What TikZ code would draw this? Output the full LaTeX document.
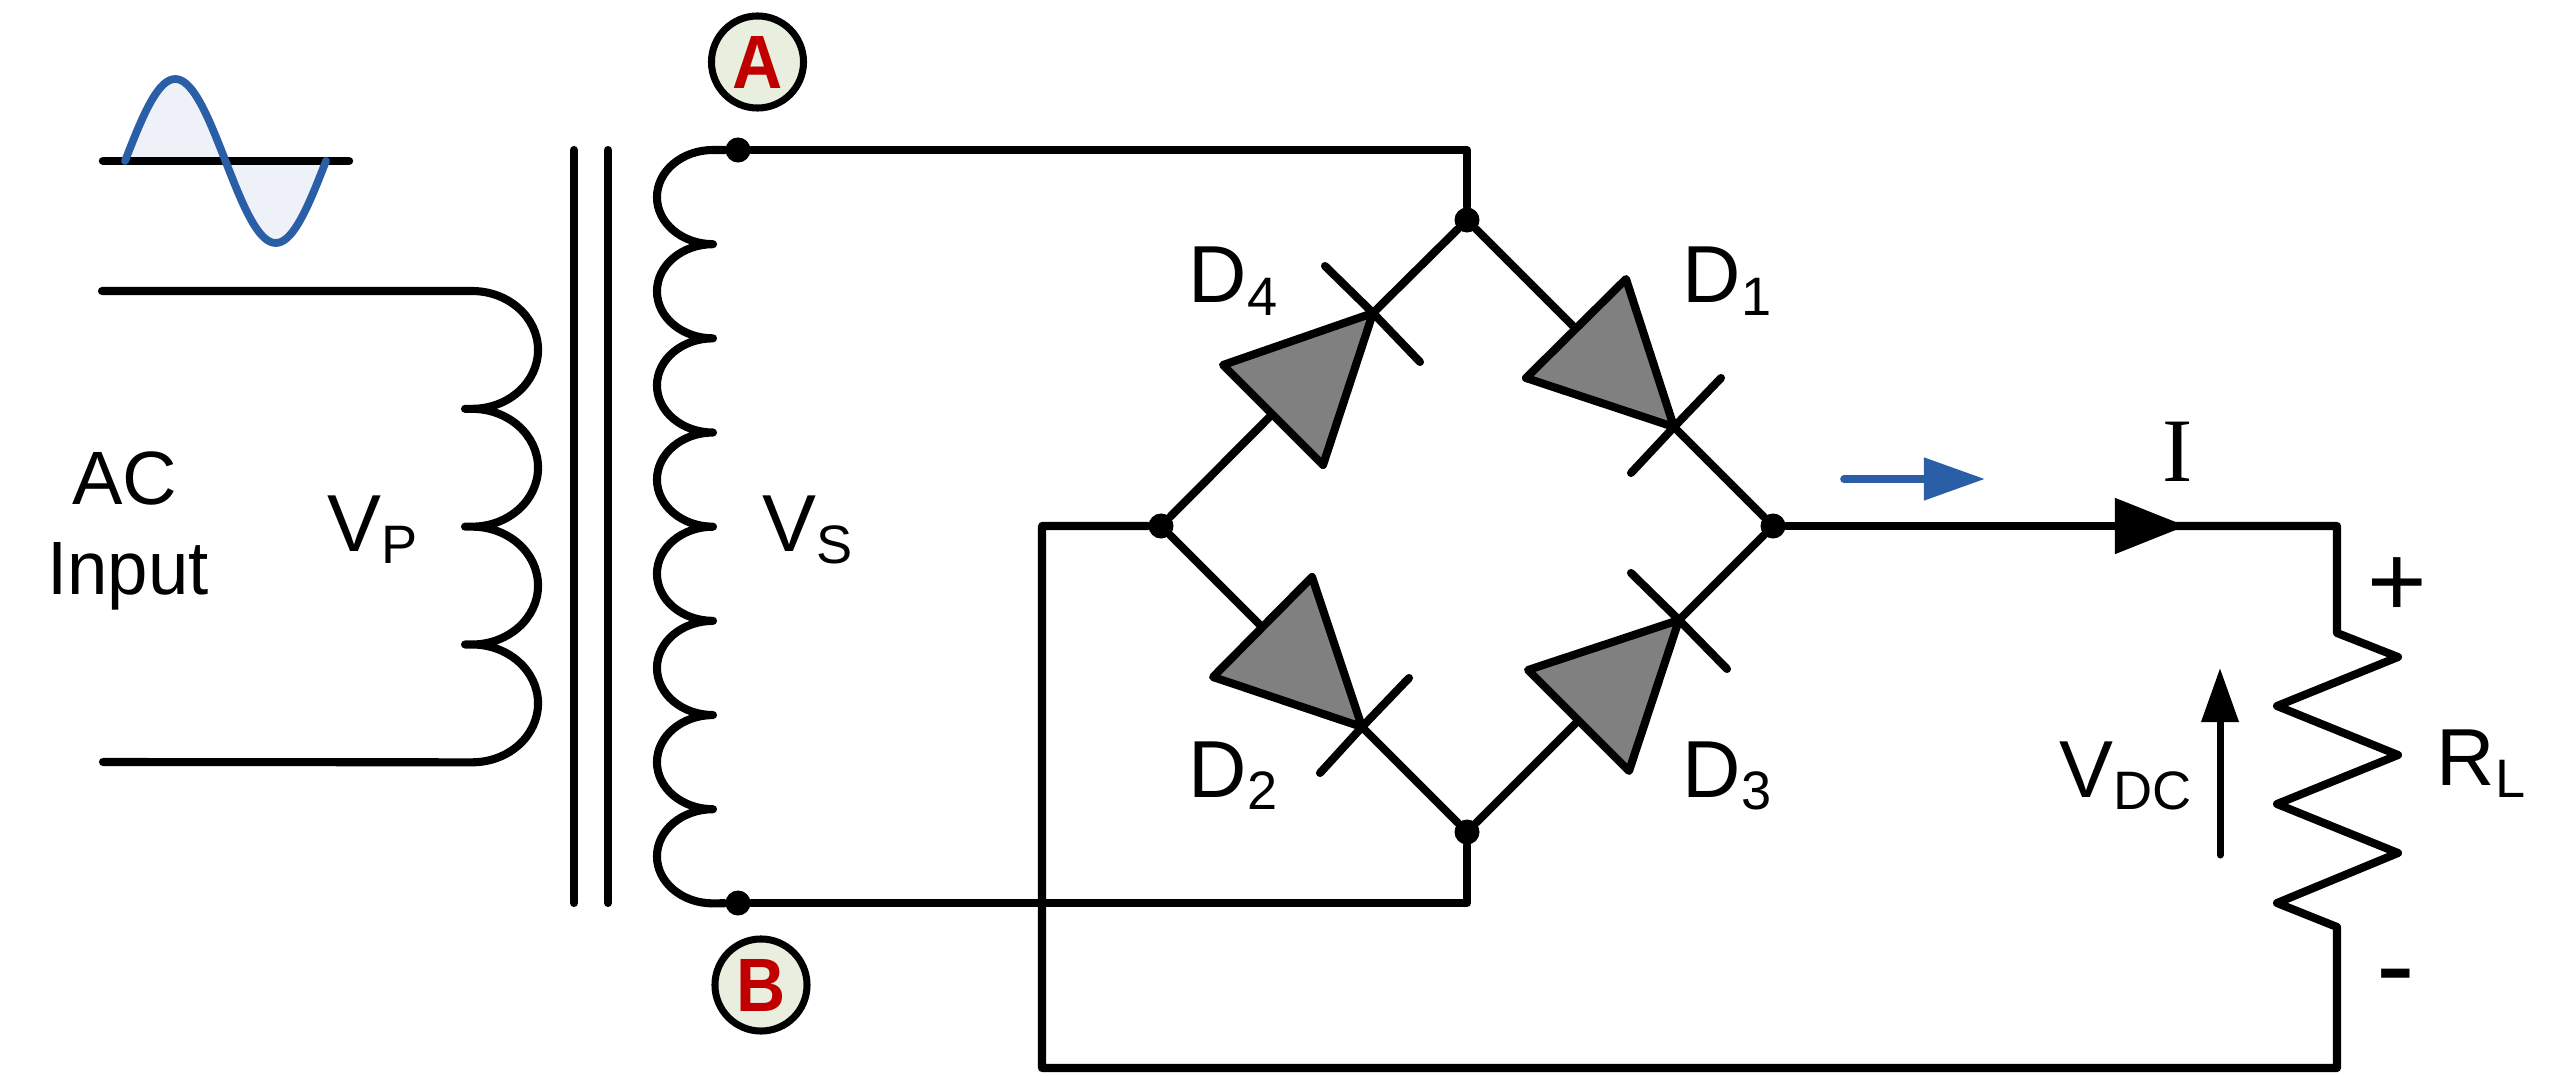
\documentclass[tikz,border=0pt]{standalone}
\usepackage{fontspec}
\setmainfont{Liberation Sans}
\newfontfamily\labserif{Liberation Serif}
\usetikzlibrary{arrows.meta}
\definecolor{waveblue}{HTML}{2A5FA8}
\definecolor{wavefill}{HTML}{EEF1F7}
\definecolor{badgefill}{HTML}{E9EFDE}
\definecolor{badgered}{HTML}{C00000}
\definecolor{diodegray}{HTML}{808080}
\newcommand{\labsub}[2]{#1\raisebox{-0.12cm}{\fontsize{15.4}{15.4}\selectfont #2}}
\tikzset{
  wire/.style={line width=2.3pt,line cap=round,line join=round},
  junction/.style={circle,fill=black,inner sep=0pt,minimum size=0.25cm},
  badge/.style={circle,draw,line width=2pt,fill=badgefill,text=badgered,inner sep=0pt,minimum size=0.92cm,
    font=\fontsize{21.5}{21.5}\selectfont\bfseries},
  lab/.style={inner sep=0pt,anchor=base west,font=\fontsize{23}{23}\selectfont},
  diodebody/.style={wire,fill=diodegray}
}
\begin{document}
\begin{tikzpicture}[x=0.01cm,y=-0.01cm]
  \useasboundingbox (0,0) rectangle (2557,1076);
  % sine wave
  \coordinate (axisl) at (103,161);
  \coordinate (axisr) at (349,161);
  \fill[wavefill] plot[domain=0:360,samples=73] ({125+\x/360*201},{161-82*sin(\x)}) -- cycle;
  \draw[wire,line width=2.4pt] (axisl) -- (axisr);
  \draw[wire,waveblue,line width=2.2pt] plot[domain=0:360,samples=73] ({125+\x/360*201},{161-82*sin(\x)});
  % transformer
  \coordinate (inup) at (102,291);
  \coordinate (indown) at (103,762);
  \coordinate (coreat) at (574,150);
  \coordinate (coreab) at (574,903);
  \coordinate (corebt) at (608,150);
  \coordinate (corebb) at (608,903);
  \draw[wire] (inup) -- (472,291)
    \foreach \i in {1,...,4} {arc[start angle=90,end angle=-90,x radius=0.66cm,y radius=0.5888cm] -- ++(-7,0) ++(7,0)} -- (indown);
  \draw[wire] (coreat) -- (coreab);
  \draw[wire] (corebt) -- (corebb);
  \node[junction] (ja) at (738,150) {};
  \node[junction] (jb) at (738,903) {};
  \draw[wire] (ja) -- (713,150)
    \foreach \i in {1,...,8} {arc[start angle=90,end angle=270,x radius=0.56cm,y radius=0.4706cm]} -- (jb);
  \node[badge] (ta) at (757.5,62) {\scalebox{0.92}[1]{A}};
  \node[badge] (tb) at (761,985) {\scalebox{0.9}[1]{B}};
  % bridge
  \node[junction] (jtop) at (1467,220) {};
  \node[junction] (jleft) at (1161,526) {};
  \node[junction] (jright) at (1773,526) {};
  \node[junction] (jbot) at (1467,832) {};
  \coordinate (d4tip) at (1373,313);
  \coordinate (d1tip) at (1674,427);
  \coordinate (d2tip) at (1362,727);
  \coordinate (d3tip) at (1679,620);
  \draw[wire] (jleft) -- (d4tip) -- (jtop) -- (d1tip) -- (jright) -- (d3tip) -- (jbot) -- (d2tip) -- (jleft);
  \draw[diodebody] (d4tip) -- ++(-150,52) -- ++(100,100) -- cycle;
  \draw[wire] (d4tip) -- ++(-48,-47) (d4tip) -- ++(47,49);
  \draw[diodebody] (d1tip) -- ++(-48,-148) -- ++(-100,99) -- cycle;
  \draw[wire] (d1tip) -- ++(47,-49) (d1tip) -- ++(-43,46);
  \draw[diodebody] (d2tip) -- ++(-50,-150) -- ++(-99,100) -- cycle;
  \draw[wire] (d2tip) -- ++(47,-49) (d2tip) -- ++(-42,46);
  \draw[diodebody] (d3tip) -- ++(-151,50) -- ++(101,101) -- cycle;
  \draw[wire] (d3tip) -- ++(-48,-47) (d3tip) -- ++(48,49);
  % outer wiring
  \coordinate (abend) at (1467,150);
  \coordinate (bbend) at (1467,903);
  \coordinate (leftup) at (1042,526);
  \coordinate (leftdown) at (1042,1068);
  \coordinate (rightdown) at (2337,1068);
  \coordinate (rightup) at (2337,526);
  \coordinate (itip) at (2186,526);
  \coordinate (iend) at (2170,526);
  \draw[wire] (ja) -- (abend) -- (jtop);
  \draw[wire] (jb) -- (bbend) -- (jbot);
  \draw[wire] (jleft) -- (leftup) -- (leftdown) -- (rightdown) -- (2337,927) -- (2277,903) -- (2398,853)
    -- (2277,804) -- (2398,755) -- (2277,706) -- (2398,657) -- (2337,633) -- (rightup) -- (iend);
  \draw[wire,-{Triangle[length=0.71cm,width=0.54cm]}] (jright) -- (itip);
  % arrows
  \coordinate (flowl) at (1844,479);
  \coordinate (flowr) at (1985,479);
  \coordinate (vdcb) at (2220,855);
  \coordinate (vdct) at (2220,668);
  \draw[wire,waveblue,line width=2.2pt,-{Triangle[length=0.61cm,width=0.41cm]}] (flowl) -- (flowr);
  \draw[wire,line width=2pt,-{Triangle[length=0.54cm,width=0.36cm]}] (vdcb) -- (vdct);
  % labels
  \node[lab,font=\fontsize{21.5}{21.5}\selectfont,anchor=base] (lac) at (125,504) {AC};
  \node[lab,font=\fontsize{21.5}{21.5}\selectfont,anchor=base] (linput) at (128,594) {\scalebox{0.96}[1]{Input}};
  \node[lab] (lvp) at (327,551) {\labsub{V}{P}};
  \node[lab] (lvs) at (762,551) {\labsub{V}{S}};
  \node[lab] (ld4) at (1188,303) {\labsub{D}{4}};
  \node[lab] (ld1) at (1682,303) {\labsub{D}{1}};
  \node[lab] (ld2) at (1188,797) {\labsub{D}{2}};
  \node[lab] (ld3) at (1682,797) {\labsub{D}{3}};
  \node[lab] (lvdc) at (2059,797) {\labsub{V}{DC}};
  \node[lab] (lrl) at (2436,785) {\labsub{R}{L}};
  \node[inner sep=0pt,anchor=base,font=\fontsize{25.8}{25.8}\selectfont\labserif] (lcur) at (2178,481) {I};
  \node[inner sep=0pt,font=\fontsize{29}{29}\selectfont] (lplus) at (2397,587) {+};
  \node[inner sep=0pt,font=\fontsize{33}{33}\selectfont] (lminus) at (2396,987) {-};
\end{tikzpicture}
\end{document}
